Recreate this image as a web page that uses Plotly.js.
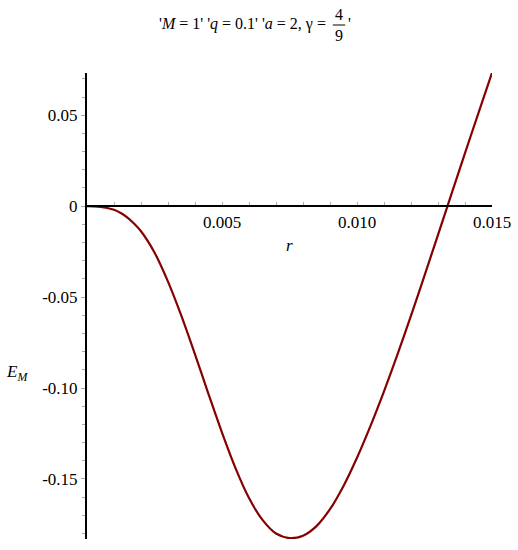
<!DOCTYPE html>
<html>
<head>
<meta charset="utf-8">
<script src="https://cdn.plot.ly/plotly-3.0.1.min.js"></script>
<style>html,body{margin:0;padding:0;background:#fff;}</style>
</head>
<body>
<div id="plot" style="width:518px;height:550px;"></div>
<script>
// Data
const rValues = [0, 0.00025, 0.0005, 0.00075, 0.001, 0.00125, 0.0015, 0.00175, 0.002, 0.0025, 0.003, 0.0035, 0.004, 0.0045, 0.005, 0.0055, 0.006, 0.0065, 0.007, 0.0075, 0.008, 0.0085, 0.009, 0.0095, 0.010, 0.0105, 0.011, 0.0115, 0.012, 0.0125, 0.013, 0.0135, 0.014, 0.0145, 0.015];
const EMValues = [0, -0.0001, -0.0004, -0.0010, -0.0020, -0.0038, -0.0063, -0.0097, -0.0138, -0.0255, -0.0415, -0.0605, -0.0815, -0.1033, -0.1245, -0.1440, -0.1605, -0.1725, -0.1800, -0.1825, -0.1812, -0.1759, -0.1666, -0.1538, -0.1383, -0.1208, -0.1018, -0.0815, -0.0602, -0.0382, -0.0158, 0.0067, 0.0292, 0.0513, 0.0733];

const xTickVals = [0.005, 0.010, 0.015];
const xTickText = ["0.005", "0.010", "0.015"];
const yTickVals = [0.05, 0, -0.05, -0.10, -0.15];
const yTickText = ["0.05", "0", "-0.05", "-0.10", "-0.15"];

const xRange = [0, 0.015];
const yRange = [-0.1830, 0.0732];

const serif = "'Times New Roman', 'Liberation Serif', serif";
const zeroPos = (0 - yRange[0]) / (yRange[1] - yRange[0]);

const trace = {
  x: rValues, y: EMValues, type: 'scatter', mode: 'lines',
  line: {color: '#850000', width: 2.2, shape: 'spline', smoothing: 0.8},
  hoverinfo: 'skip'
};

const layout = {
  width: 518, height: 550,
  margin: {l: 87, r: 26, t: 73, b: 11},
  paper_bgcolor: '#fff', plot_bgcolor: '#fff',
  showlegend: false,
  font: {family: serif, size: 16, color: '#000'},
  xaxis: {
    range: xRange, anchor: 'free', position: zeroPos,
    showline: true, linecolor: '#000', linewidth: 2,
    showgrid: false, zeroline: false,
    tickmode: 'array', tickvals: xTickVals, ticktext: xTickText,
    ticks: 'inside', ticklen: 3, tickcolor: '#aaa', tickwidth: 1,
    minor: {tick0: 0, dtick: 0.001, ticks: 'inside', ticklen: 3, tickcolor: '#aaa', showgrid: false},
    tickfont: {family: serif, size: 17, color: '#000'},
    fixedrange: true
  },
  yaxis: {
    range: yRange,
    showline: true, linecolor: '#000', linewidth: 2,
    showgrid: false, zeroline: false,
    tickmode: 'array', tickvals: yTickVals, ticktext: yTickText,
    ticks: 'outside', ticklen: 4, tickcolor: '#aaa', tickwidth: 1,
    minor: {tick0: 0, dtick: 0.01, ticks: 'outside', ticklen: 3, tickcolor: '#aaa', showgrid: false},
    tickfont: {family: serif, size: 17, color: '#000'},
    fixedrange: true
  },
  annotations: [
    {xref: 'paper', yref: 'paper', x: 0.605, y: 1.1052, xanchor: 'right', yanchor: 'middle', showarrow: false,
     text: "'<i>M</i> = 1' '<i>q</i> = 0.1' '<i>a</i> = 2, γ = ", font: {family: serif, size: 16}},
    {xref: 'paper', yref: 'paper', x: 0.6222, y: 1.1266, xanchor: 'center', yanchor: 'middle', showarrow: false,
     text: "4", font: {family: serif, size: 16}},
    {xref: 'paper', yref: 'paper', x: 0.6222, y: 1.0794, xanchor: 'center', yanchor: 'middle', showarrow: false,
     text: "9", font: {family: serif, size: 16}},
    {xref: 'paper', yref: 'paper', x: 0.640, y: 1.1052, xanchor: 'left', yanchor: 'middle', showarrow: false,
     text: "'", font: {family: serif, size: 16}},
    {xref: 'paper', yref: 'paper', x: 0.5, y: zeroPos - 0.084, xanchor: 'center', yanchor: 'middle', showarrow: false,
     text: "<i>r</i>", font: {family: serif, size: 17}},
    {xref: 'paper', yref: 'paper', x: -0.1728, y: 0.356, xanchor: 'center', yanchor: 'middle', showarrow: false,
     text: "<i>E</i><sub><i>M</i></sub>", font: {family: serif, size: 17}}
  ],
  shapes: [
    {type: 'line', xref: 'paper', yref: 'paper', x0: 0.6070, x1: 0.6375, y0: 1.1030, y1: 1.1030,
     line: {color: '#000', width: 1}}
  ]
};

Plotly.newPlot('plot', [trace], layout, {displayModeBar: false, staticPlot: true});
</script>
</body>
</html>
